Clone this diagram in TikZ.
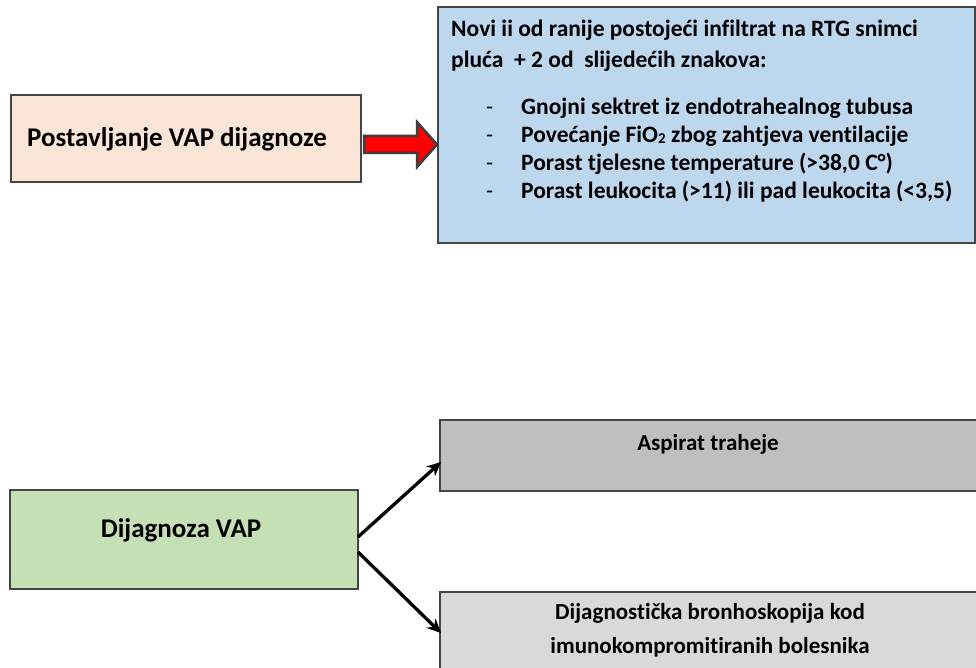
\documentclass[tikz,border=0pt]{standalone}
\usepackage{fontspec}
\setmainfont{Carlito}[Ligatures={NoCommon}]
\usetikzlibrary{arrows.meta,calc}
\definecolor{peach}{HTML}{FBE5D6}
\definecolor{lblue}{HTML}{BDD7EE}
\definecolor{lgreen}{HTML}{C5E0B4}
\definecolor{gmid}{HTML}{BFBFBF}
\definecolor{glight}{HTML}{D9D9D9}
\definecolor{edge}{HTML}{454545}
\tikzset{
  box/.style={draw=edge, line width=1.3pt},
  txt/.style={inner sep=0pt, font=\bfseries\fontsize{23}{27.7}\selectfont},
  btxt/.style={inner sep=0pt, font=\bfseries\fontsize{23.5}{27.7}\selectfont},
  bigtxt/.style={inner sep=0pt, font=\bfseries\fontsize{27}{32}\selectfont},
  conn/.style={line width=3.3pt, -{Stealth[length=14pt,width=13pt]}},
  bigarrow/.style={fill=red, draw=edge!90!black, line width=2.5pt, line join=miter}
}
\begin{document}
\begin{tikzpicture}[x=1pt,y=-1pt]
\useasboundingbox (0,0) rectangle (976,668);
\clip (0,0) rectangle (976,668);
% boxes
\draw[box, fill=peach] (11,95) rectangle (361,182);
\draw[box, fill=lblue] (438,7) rectangle (975,243);
\draw[box, fill=lgreen] (10,490) rectangle (358,589);
\draw[box, fill=gmid] (440,420) rectangle (990,491);
\draw[box, fill=glight] (440,592) rectangle (990,700);
% red block arrow
\draw[bigarrow] (364,136) -- (417,136) -- (417,122) -- (437,144.5) -- (417,167) -- (417,153) -- (364,153) -- cycle;
% texts
\node[bigtxt, anchor=base west] (t1) at (27,147) {Postavljanje VAP dijagnoze};
\node[btxt, anchor=base west] (h1) at (451,37) {Novi ii od ranije postojeći infiltrat na RTG snimci};
\node[btxt, anchor=base west] (h2) at (451,68) {pluća \ + 2 od \ slijedećih znakova:};
\foreach \y/\t [count=\i] in {115/{Gnojni sektret iz endotrahealnog tubusa},
  142.7/{Povećanje FiO{\fontsize{15}{15}\selectfont\raisebox{-0.5pt}{2}} zbog zahtjeva ventilacije},
  170.4/{Porast tjelesne temperature (>38,0 C°)},
  198.1/{Porast leukocita (>11) ili pad leukocita (<3,5)}}{
  \node[btxt, anchor=base west, font=\fontsize{23}{27.7}\selectfont] (d\i) at (486,\y) {-};
  \node[btxt, anchor=base west] (b\i) at (521,\y) {\t};
}
\node[bigtxt, anchor=base] (t3) at (181,537) {Dijagnoza VAP};
\node[txt, anchor=base] (a1) at (708,450) {Aspirat traheje};
\node[txt, anchor=base] (a2) at (710,619) {Dijagnostička bronhoskopija kod};
\node[txt, anchor=base] (a3) at (710,653) {imunokompromitiranih bolesnika};
% connectors
\coordinate (s1) at (358,537);
\coordinate (e1) at (441,462);
\coordinate (s2) at (358,552);
\coordinate (e2) at (441,633);
\draw[conn] (s1) -- (e1);
\draw[conn] (s2) -- (e2);
\end{tikzpicture}
\end{document}
